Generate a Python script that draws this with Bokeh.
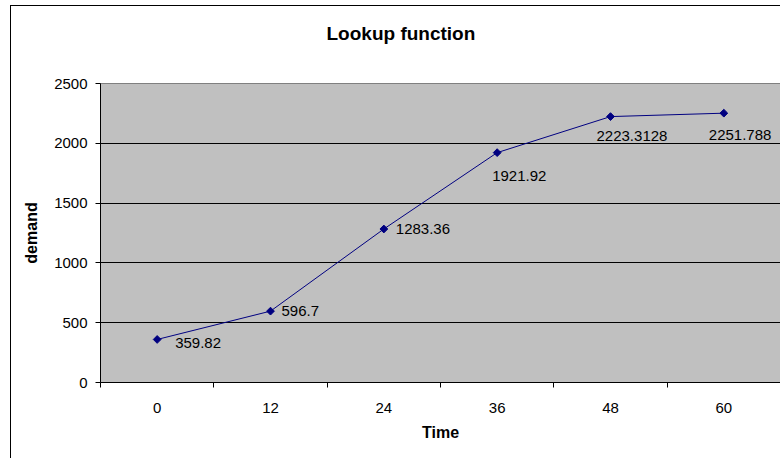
import math
from bokeh.plotting import figure
from bokeh.models import ColumnDataSource, FixedTicker, Range1d, Title
from bokeh.core.properties import value
from bokeh.embed import file_html
from bokeh.resources import INLINE

# ---- data ----
time = [0, 12, 24, 36, 48, 60]
demand = [359.82, 596.7, 1283.36, 1921.92, 2223.3128, 2251.788]
y_ticks = [0, 500, 1000, 1500, 2000, 2500]
data_labels = [str(v) for v in demand]
chart_title = "Lookup function"

# label placement (pixels, style only)
label_dx = [18, 11, 12, -5, -14, -15]
label_dy = [4, 0, 0, 23, 19, 22]

FONT = "Liberation Sans"

src = ColumnDataSource(dict(x=time, y=demand, text=data_labels, dx=label_dx, dy=label_dy))

step = time[1] - time[0]
boundaries = [t - step / 2 for t in time] + [time[-1] + step / 2]

p = figure(width=770, height=453, output_backend="svg", toolbar_location=None,
           x_range=Range1d(boundaries[0], boundaries[-1]), y_range=Range1d(y_ticks[0], y_ticks[-1]),
           min_border_left=89, min_border_right=1, min_border_top=77, min_border_bottom=77,
           background_fill_color="#C0C0C0", border_fill_color="white",
           outline_line_color="#808080", outline_line_width=1)
p.styles = {"margin-left": "10px", "margin-top": "5px",
            "border-left": "1px solid black", "border-top": "1px solid black"}

# hide default title; stack a spacer and the real title above the frame
p.title.text = ""
p.title.visible = False
p.add_layout(Title(text=" ", text_font_size="1px", standoff=23), "above")
p.add_layout(Title(text=chart_title, align="left", offset=226,
                   text_font=FONT, text_font_size="19px", text_font_style="bold",
                   text_color="black", standoff=28), "above")

# x axis
p.xaxis.ticker = FixedTicker(ticks=time, minor_ticks=boundaries)
p.xaxis.major_tick_out = 0
p.xaxis.major_tick_in = 0
p.xaxis.minor_tick_out = 5
p.xaxis.minor_tick_in = 0
p.xaxis.minor_tick_line_color = "black"
p.xaxis.major_label_standoff = 15
p.xaxis.axis_label = "Time"
p.xaxis.axis_label_standoff = 8

# y axis
p.yaxis.ticker = FixedTicker(ticks=y_ticks)
p.yaxis.major_tick_out = 5
p.yaxis.major_tick_in = 0
p.yaxis.minor_tick_line_color = None
p.yaxis.major_label_standoff = 8
p.yaxis.axis_label = "demand"
p.yaxis.axis_label_standoff = 11

for ax in (p.xaxis[0], p.yaxis[0]):
    ax.axis_line_color = "black"
    ax.major_tick_line_color = "black"
    ax.major_label_text_font = FONT
    ax.major_label_text_font_size = "15px"
    ax.major_label_text_color = "black"
    ax.axis_label_text_font = FONT
    ax.axis_label_text_font_size = "16px"
    ax.axis_label_text_font_style = "bold"
    ax.axis_label_text_color = "black"

p.xgrid.visible = False
p.ygrid.ticker = FixedTicker(ticks=y_ticks[1:-1])
p.ygrid.grid_line_color = "black"
p.ygrid.grid_line_width = 1

p.line("x", "y", source=src, line_color="#000080", line_width=1)
p.scatter("x", "y", source=src, marker="square", angle=math.pi / 4, size=5.5,
          fill_color="#000080", line_color="#000080")
p.text("x", "y", text="text", source=src, x_offset="dx", y_offset="dy",
       text_align="left", text_baseline="middle",
       text_font=value(FONT), text_font_size="15px", text_color="black")

open("out.html", "w").write(file_html(p, INLINE))
